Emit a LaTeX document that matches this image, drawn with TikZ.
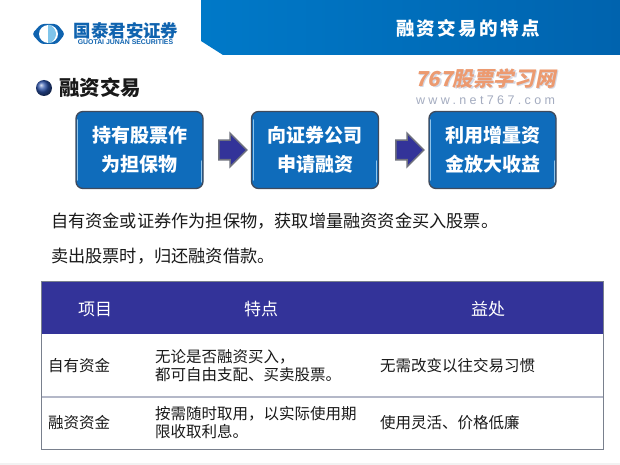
\documentclass[tikz,border=0pt]{standalone}
\usepackage{fontspec}
\setmainfont{Noto Sans CJK SC}
\newfontfamily\latinfont{Liberation Sans}
\newfontfamily\markfont[FakeSlant=0.2]{Noto Sans CJK SC}
\usetikzlibrary{shapes.arrows,shadings}
\newcommand\widecomma{\char"FF0C\relax}
\definecolor{HeadBlue}{HTML}{0079C8}
\definecolor{HeadDark}{HTML}{0063AE}
\definecolor{BoxBlue}{HTML}{0F6CBB}
\definecolor{BoxEdge}{HTML}{3F4A5C}
\definecolor{BoxLight}{HTML}{8FC4EA}
\definecolor{TableBlue}{HTML}{333399}
\definecolor{RowLine}{HTML}{B4B8C8}
\definecolor{LogoBlue}{HTML}{0F63AF}
\definecolor{LogoLight}{HTML}{7FC4EA}
\definecolor{MarkOrange}{HTML}{EC9A70}
\definecolor{MarkHalo}{HTML}{D4D8E4}
\definecolor{MarkGrey}{HTML}{A4ACC0}
\definecolor{ArrowEdge}{HTML}{70727E}
\tikzset{
  plain/.style={inner sep=0pt,outer sep=0pt,text=black!90},
  flowbox/.style={draw=BoxEdge,line width=1.3pt,fill=BoxBlue,rounded corners=7pt,minimum width=127pt,minimum height=77pt,align=center,text=white,inner sep=0pt,font=\fontsize{19}{29}\bfseries\selectfont},
  flowarrow/.style={single arrow,draw=ArrowEdge,line width=1.5pt,fill=TableBlue,minimum height=28pt,single arrow head extend=7pt,single arrow head indent=0pt,inner xsep=0pt,inner ysep=9pt},
  gloss/.style={plain,anchor=west,font=\fontsize{17.2}{20}\selectfont},
  headcell/.style={plain,text=white,font=\fontsize{17}{20}\selectfont},
  bodycell/.style={plain,anchor=west,align=left,font=\fontsize{15.5}{18}\selectfont},
}
\begin{document}
\begin{tikzpicture}[x=1pt,y=-1pt]
\useasboundingbox (0,0) rectangle (620,465);
\fill[white] (0,0) rectangle (620,465);
\fill[black!5] (0,463) rectangle (620,465);
% header band
\shade[left color=HeadBlue,right color=HeadDark] (201,0) -- (620,0) -- (620,55) -- (223,55) -- (201,41) -- cycle;
\node[plain,text=white,font=\fontsize{18.5}{22}\bfseries\selectfont] (title) at (468,28) {\addfontfeature{LetterSpace=13}融资交易的特点};
% logo
\fill[LogoBlue,rounded corners=3pt] (32,34) -- (41,24) -- (57,24) -- (65,34) -- (57,44) -- (41,44) -- cycle;
\fill[white] (48.5,34) ellipse (9.5 and 9);
\fill[LogoLight] (48,25) -- (50,25) .. controls (54,27) and (56,31) .. (56,34) .. controls (56,37) and (54,41) .. (50,43) -- (48,43) -- cycle;
\node[plain,text=LogoBlue,font=\fontsize{17.4}{20}\bfseries\selectfont] (logoname) at (126,30.5) {国泰君安证券};
\node[plain,text=LogoBlue,font=\fontsize{6.9}{8}\bfseries\latinfont] (logolatin) at (125.5,42) {GUOTAI JUNAN SECURITIES};
% section heading
\shade[ball color=TableBlue!85!cyan] (44,88) circle (8);
\node[plain,anchor=west,font=\fontsize{20.5}{24}\bfseries\selectfont] (section) at (59,88) {融资交易};
% watermark
\node[plain,anchor=west,text=MarkHalo,font=\fontsize{20.6}{26}\bfseries\markfont] (halo) at (416.5,80) {767股票学习网};
\node[plain,anchor=west,text=MarkOrange,font=\fontsize{20.6}{26}\bfseries\markfont] (mark) at (415,78.5) {767股票学习网};
\node[plain,anchor=west,text=MarkGrey,font=\fontsize{12.5}{14}\latinfont] (site) at (416,100) {\addfontfeature{LetterSpace=27}www.net767.com};
% flow
\foreach \name/\xpos/\upper/\lower in {boxa/139.5/持有股票作/为担保物,boxb/315/向证券公司/申请融资,boxc/492.5/利用增量资/金放大收益}
{
\node[flowbox] (\name) at (\xpos,150) {\upper\\\lower};
\draw[BoxLight,line width=1.2pt,line cap=round] ([shift={(2.5pt,-9pt)}]\name.north west) -- ([shift={(2.5pt,9pt)}]\name.south west);
\draw[BoxLight,line width=1pt,line cap=round] ([shift={(-2.5pt,-50pt)}]\name.north east) -- ([shift={(-2.5pt,7pt)}]\name.south east);
}
\foreach \name/\xpos in {arrowa/228,arrowb/405}
\node[flowarrow] (\name) at (\xpos,150) {};
% text lines
\node[gloss] (glossa) at (51,221) {自有资金或证券作为担保物\widecomma 获取增量融资资金买入股票。};
\node[gloss] (glossb) at (51,256) {卖出股票时\widecomma 归还融资借款。};
% table
\fill[TableBlue] (41,281) rectangle (603,334);
\draw[RowLine,line width=1.2pt] (41,397) -- (603,397);
\draw[BoxEdge!70,line width=1pt] (41,281) rectangle (603,449);
\foreach \name/\xpos/\label in {heada/95/项目,headb/261/特点,headc/488/益处}
\node[headcell] (\name) at (\xpos,309) {\label};
\node[bodycell] (rowa) at (48,366) {自有资金};
\node[bodycell] (rowb) at (48,423) {融资资金};
\node[bodycell] (traita) at (155,366) {无论是否融资买入\widecomma\\都可自由支配、买卖股票。};
\node[bodycell] (traitb) at (155,423) {按需随时取用\widecomma 以实际使用期\\限收取利息。};
\node[bodycell] (gaina) at (380,366) {无需改变以往交易习惯};
\node[bodycell] (gainb) at (380,423) {使用灵活、价格低廉};
\end{tikzpicture}
\end{document}
